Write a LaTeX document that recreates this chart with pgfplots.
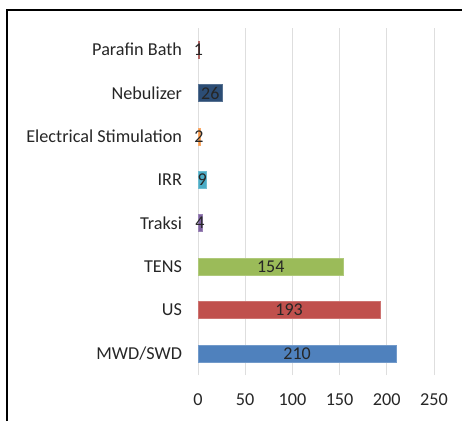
\documentclass[border=0pt]{standalone}
\usepackage{pgfplots}
\pgfplotsset{compat=1.18}
\usepackage{fontspec}
\setmainfont{Carlito}
\definecolor{cMWD}{HTML}{4F81BD}
\definecolor{cUS}{HTML}{C0504D}
\definecolor{cTENS}{HTML}{9BBB59}
\definecolor{cTraksi}{HTML}{8064A2}
\definecolor{cIRR}{HTML}{4BACC6}
\definecolor{cES}{HTML}{F79646}
\definecolor{cNeb}{HTML}{2C4D75}
\definecolor{cPar}{HTML}{A0403D}
\definecolor{txt}{HTML}{262626}
\begin{document}
\begin{tikzpicture}[x=1pt,y=1pt]
\path[use as bounding box] (0,0) rectangle (462,-421);
\draw[line width=1.3pt] (7,-421) -- (7,-10) -- (462,-10);
\begin{axis}[
  at={(198pt,-375pt)}, anchor=south west,
  scale only axis, width=236pt, height=347pt,
  xmin=0, xmax=250, ymin=-0.5, ymax=7.5,
  xbar, bar width=17pt, bar shift=0pt,
  xtick={0,50,...,250}, ytick={0,...,7},
  yticklabels={MWD/SWD,US,TENS,Traksi,IRR,Electrical Stimulation,Nebulizer,Parafin Bath},
  xmajorgrids, major grid style={draw=black!13, line width=0.8pt},
  axis line style={draw=none}, major tick length=0pt,
  tick label style={font=\fontsize{18.2}{20}\selectfont, text=txt},
  /pgf/number format/assume math mode=true,
  yticklabel style={xshift=-12.5pt},
  xticklabel style={yshift=-15pt},
  nodes near coords,
  visualization depends on={rawx \as \rawx},
  every node near coord/.append style={anchor=center, xshift={-\rawx*0.472pt}, font=\fontsize{18}{20}\selectfont, text=txt},
]
\addplot[fill=cMWD, draw=cMWD!80!white] coordinates {(210,0)};
\addplot[fill=cUS, draw=cUS!80!white] coordinates {(193,1)};
\addplot[fill=cTENS, draw=cTENS!80!white] coordinates {(154,2)};
\addplot[fill=cTraksi, draw=cTraksi!80!white] coordinates {(4,3)};
\addplot[fill=cIRR, draw=cIRR!80!white] coordinates {(9,4)};
\addplot[fill=cES, draw=cES!80!white] coordinates {(2,5)};
\addplot[fill=cNeb, draw=cNeb!80!white] coordinates {(26,6)};
\addplot[fill=cPar, draw=cPar!80!white] coordinates {(1,7)};
\end{axis}
\end{tikzpicture}
\end{document}
